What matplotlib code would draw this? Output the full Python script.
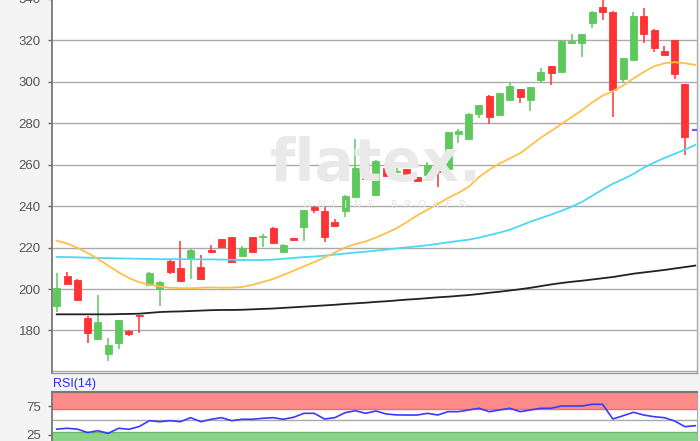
import matplotlib
matplotlib.use("Agg")
import matplotlib.pyplot as plt
import numpy as np

# ---------------- data ----------------
opens  = [192.0, 206.3, 204.4, 185.9, 175.9, 168.7, 174.1, 179.9, 187.4, 202.0,
          200.0, 213.7, 210.0, 214.4, 210.5, 218.9, 224.0, 225.0, 216.1, 225.0,
          225.0, 229.6, 218.0, 224.5, 229.8, 239.7, 237.7, 232.5, 237.8, 244.6,
          261.0, 245.4, 258.3, 256.3, 257.8, 253.9, 255.0, 257.8, 257.9, 274.8,
          272.2, 284.5, 293.3, 284.0, 291.2, 296.4, 291.2, 300.9, 307.6, 304.9,
          318.6, 318.6, 328.5, 335.9, 333.8, 301.3, 310.5, 331.9, 325.0, 315.0,
          320.1, 298.8]
highs  = [207.6, 208.4, 204.6, 187.0, 197.2, 176.3, 185.3, 180.1, 187.6, 208.1,
          203.8, 213.9, 223.2, 219.2, 216.4, 221.3, 224.3, 225.2, 220.8, 225.2,
          226.6, 229.8, 221.5, 224.7, 238.3, 239.9, 240.1, 233.8, 245.2, 272.2,
          262.3, 262.1, 258.5, 259.4, 258.0, 254.1, 261.4, 258.0, 275.8, 277.1,
          284.7, 289.0, 293.5, 294.6, 299.7, 296.6, 297.5, 306.8, 307.8, 320.0,
          322.9, 323.1, 334.0, 341.0, 334.0, 311.5, 333.8, 335.4, 325.2, 317.3,
          320.3, 299.0]
lows   = [189.1, 202.0, 194.5, 174.1, 175.6, 165.3, 171.0, 177.5, 178.7, 201.8,
          191.8, 207.1, 203.9, 204.7, 204.5, 217.3, 219.9, 212.6, 215.9, 217.8,
          220.2, 221.9, 217.8, 223.5, 223.3, 236.6, 222.9, 230.2, 234.9, 244.4,
          252.8, 245.2, 254.5, 256.1, 254.0, 251.5, 254.8, 249.1, 257.7, 270.3,
          272.0, 282.4, 279.6, 283.8, 291.0, 289.6, 286.0, 299.3, 298.4, 304.7,
          318.4, 311.8, 326.1, 329.8, 282.9, 300.0, 310.3, 318.6, 314.5, 312.7,
          301.3, 264.7]
closes = [200.7, 202.3, 194.7, 179.0, 184.3, 173.0, 185.1, 178.3, 186.8, 207.6,
          203.6, 208.1, 204.0, 218.9, 204.7, 217.7, 220.2, 212.9, 219.7, 218.0,
          225.8, 222.1, 221.3, 223.7, 238.1, 238.1, 225.3, 230.4, 245.0, 258.6,
          253.0, 261.9, 254.7, 257.1, 254.2, 252.3, 259.9, 256.6, 275.6, 276.4,
          284.5, 288.8, 282.9, 294.4, 298.1, 292.8, 297.3, 304.6, 304.1, 319.8,
          319.8, 322.9, 333.8, 333.8, 296.0, 311.3, 331.9, 323.0, 316.1, 312.9,
          303.7, 273.5]
last_price = 276.7

sma_short = [223.3, 222.0, 219.9, 217.4, 214.5, 211.3, 208.1, 205.3, 203.3, 202.1,
             201.2, 200.6, 200.4, 200.4, 200.6, 200.8, 200.6, 200.7, 201.0, 202.0,
             203.4, 204.8, 206.8, 208.8, 210.9, 213.0, 215.2, 217.6, 220.0, 221.7,
             223.0, 224.8, 227.0, 229.3, 232.3, 235.5, 238.3, 241.0, 243.9, 246.4,
             249.3, 254.0, 257.5, 260.6, 263.0, 265.5, 269.2, 273.0, 276.2, 279.6,
             282.9, 286.3, 290.0, 293.3, 295.4, 298.2, 301.6, 304.7, 307.4, 308.9,
             309.4, 308.9, 308.1]
sma_mid = [215.5, 215.4, 215.3, 215.1, 215.0, 214.9, 214.8, 214.7, 214.6, 214.5,
           214.4, 214.4, 214.4, 214.4, 214.3, 214.3, 214.2, 214.1, 214.0, 214.0,
           214.0, 214.2, 214.6, 215.0, 215.4, 215.7, 216.1, 216.6, 217.1, 217.6,
           218.0, 218.5, 219.0, 219.6, 220.1, 220.6, 221.1, 221.8, 222.5, 223.2,
           223.8, 224.8, 226.0, 227.2, 228.6, 230.5, 232.5, 234.2, 235.9, 237.7,
           239.7, 242.0, 245.0, 248.0, 250.8, 253.0, 255.5, 258.5, 261.0, 263.2,
           265.2, 267.2, 269.5]
sma_long = [187.8, 187.8, 187.8, 187.8, 187.8, 187.8, 187.9, 188.0, 188.1, 188.5,
            188.9, 189.1, 189.2, 189.4, 189.6, 189.8, 189.9, 189.9, 190.0, 190.2,
            190.4, 190.6, 190.9, 191.2, 191.5, 191.8, 192.1, 192.4, 192.8, 193.1,
            193.4, 193.8, 194.1, 194.5, 194.9, 195.2, 195.6, 196.0, 196.3, 196.7,
            197.1, 197.6, 198.2, 198.7, 199.3, 199.9, 200.6, 201.4, 202.2, 202.9,
            203.5, 204.0, 204.6, 205.2, 205.8, 206.6, 207.4, 208.0, 208.6, 209.2,
            209.9, 210.6, 211.3]
rsi = [34.5, 36.0, 34.5, 28.5, 31.7, 27.1, 36.0, 34.2, 39.0, 49.4,
       47.6, 49.4, 47.6, 54.7, 47.6, 51.9, 54.7, 49.4, 51.9, 51.9,
       53.6, 54.7, 51.9, 55.4, 62.4, 62.4, 52.4, 54.7, 63.5, 67.0,
       62.4, 66.5, 61.2, 59.6, 59.4, 59.4, 62.4, 59.4, 65.3, 65.3,
       68.3, 71.3, 65.3, 68.3, 71.3, 65.3, 68.3, 71.3, 71.3, 75.3,
       75.3, 75.3, 78.3, 78.3, 52.4, 58.2, 64.2, 59.4, 56.4, 54.7,
       48.9, 38.8, 40.6]
price_ticks = [180, 200, 220, 240, 260, 280, 300, 320, 340]
rsi_ticks = [25, 75]

# ---------------- figure ----------------
W, H = 700, 441
fig = plt.figure(figsize=(W / 100, H / 100), dpi=100, facecolor="#f4f4f4")
plt.rcParams["font.family"] = ["Liberation Sans", "DejaVu Sans"]

def frac(x0, y0, x1, y1):
    return [x0 / W, 1 - y1 / H, (x1 - x0) / W, (y1 - y0) / H]

# white plot background (drawn below the watermark)
fig.patches.append(plt.Rectangle((52 / W, 1 - 373 / H), 645 / W, 373 / H + 0.05,
                                 transform=fig.transFigure, facecolor="white",
                                 edgecolor="none", zorder=-1))
# watermark
fig.text(376 / W, 1 - 181 / H, "flatex.", fontsize=42, color="#e9e9e9",
         ha="center", va="baseline", family="DejaVu Sans", fontweight="bold",
         zorder=0)
fig.text(385 / W, 1 - 205 / H, "O  N  L  I  N  E     B  R  O  K  E  R",
         fontsize=7.5, color="#e6e6e6", ha="center", va="center",
         family="DejaVu Sans", zorder=0)

ax = fig.add_axes(frac(52, -11.6, 697, 373))
ax.patch.set_alpha(0)
xmin, xmax = -0.46, 62.17
ax.set_xlim(xmin, xmax)
ax.set_ylim(159.5, 345.0)

for t in price_ticks:
    ax.axhline(t, color="#aaaaaa", lw=1.0, zorder=1)
ax.axhline(160.4, color="#aaaaaa", lw=1.0, zorder=1)

x = np.arange(len(opens))
up_c, dn_c = "#5dc95d", "#ff3333"
bw = 0.68
for i in x:
    o, h, l, c = opens[i], highs[i], lows[i], closes[i]
    col = up_c if c >= o else dn_c
    ax.vlines(i, l, h, color=col, lw=1.1, zorder=3)
    lo, hi = min(o, c), max(o, c)
    ax.add_patch(plt.Rectangle((i - bw / 2, lo), bw, max(hi - lo, 0.6),
                               facecolor=col, edgecolor=col, lw=0.6, zorder=4))

xm = np.arange(len(sma_short))
ax.plot(xm, sma_long, color="#222222", lw=1.3, zorder=5)
ax.plot(xm, sma_mid, color="#4dd8f5", lw=1.3, zorder=5)
ax.plot(xm, sma_short, color="#ffc04a", lw=1.3, zorder=5)
n = len(opens)
ax.hlines(last_price, n - bw / 2, n + bw / 2, color="#7a5ae0", lw=1.6, zorder=6)

ax.set_yticks(price_ticks)
ax.set_xticks([])
ax.tick_params(axis="y", length=3, width=1, color="#666666", labelcolor="#555555",
               labelsize=9.5, pad=5)
ax.spines["top"].set_visible(False)
ax.spines["left"].set_color("#777777")
ax.spines["left"].set_linewidth(1.3)
ax.spines["bottom"].set_color("#999999")
ax.spines["bottom"].set_linewidth(1.0)
ax.spines["right"].set_color("#aaaaaa")
ax.spines["right"].set_linewidth(1.0)

# ---------------- RSI panel ----------------
ar = fig.add_axes(frac(52, 392, 697, 448.7))
ar.set_facecolor("white")
ar.set_xlim(xmin, xmax)
ar.set_ylim(0, 100)
ar.axhspan(70, 100, facecolor="#ff8a8a", edgecolor="none", zorder=1)
ar.axhline(70, color="#e07575", lw=1.0, zorder=2)
ar.axhspan(0, 30, facecolor="#8ad48a", edgecolor="none", zorder=1)
ar.axhline(30, color="#66bb66", lw=1.0, zorder=2)
ar.axhline(50, color="#aaaaaa", lw=1.0, zorder=2)
ar.plot(np.arange(len(rsi)), rsi, color="#3a3aff", lw=1.2, zorder=4)
ar.set_yticks(rsi_ticks)
ar.set_xticks([])
ar.tick_params(axis="y", length=3, width=1, color="#666666", labelcolor="#555555",
               labelsize=9.5, pad=5)
ar.spines["top"].set_color("#777777")
ar.spines["top"].set_linewidth(1.5)
ar.spines["left"].set_color("#777777")
ar.spines["left"].set_linewidth(1.3)
ar.spines["right"].set_color("#aaaaaa")
fig.text(53 / W, 1 - 384 / H, "RSI(14)", color="#2a2aff", fontsize=9,
         ha="left", va="center")

fig.savefig("out.png", dpi=100, facecolor=fig.get_facecolor())
